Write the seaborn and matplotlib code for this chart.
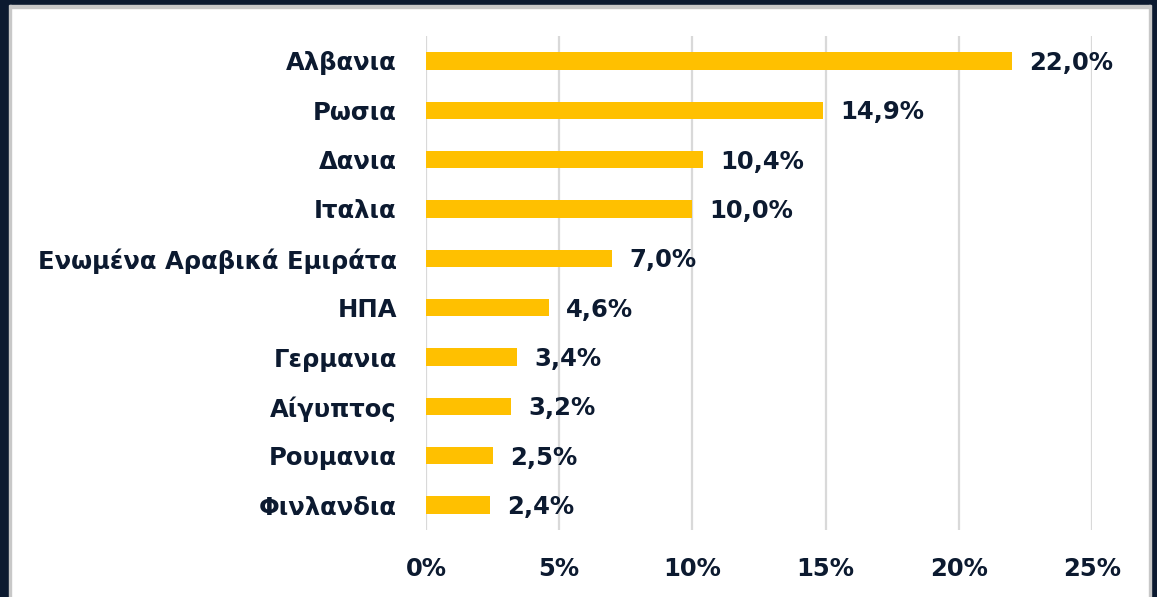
import matplotlib
matplotlib.use("Agg")
import matplotlib.pyplot as plt
import matplotlib.patches as mpatches
import pandas as pd
import seaborn as sns

countries = ['Αλβανια', 'Ρωσια', 'Δανια', 'Ιταλια', 'Ενωμένα Αραβικά Εμιράτα',
             'ΗΠΑ', 'Γερμανια', 'Αίγυπτος', 'Ρουμανια', 'Φινλανδια']
shares = [22.0, 14.9, 10.4, 10.0, 7.0, 4.6, 3.4, 3.2, 2.5, 2.4]
xticks = [0, 5, 10, 15, 20, 25]

NAVY = '#0c1a30'
BAR = '#ffc000'
GRID = '#d9d9d9'

df = pd.DataFrame({'country': countries, 'share': shares})

sns.set_style('white')
plt.rcParams['font.family'] = ['DejaVu Sans']

fig = plt.figure(figsize=(11.57, 5.97), dpi=100)
ax = fig.add_axes([0.3682, 0.1127, 0.5756, 0.8265])

sns.barplot(data=df, x='share', y='country', color=BAR, width=0.35,
            saturation=1, linewidth=0, ax=ax, zorder=3)

ax.set_xlim(0, 25)
ax.set_ylim(9.5, -0.5)
ax.set_xticks(xticks)
ax.set_xticklabels([f'{t}%' for t in xticks])
for t in xticks:
    ax.axvline(t, color=GRID, lw=1.6, zorder=1)
ax.grid(False)
for s in ax.spines.values():
    s.set_visible(False)
ax.set_xlabel('')
ax.set_ylabel('')
ax.tick_params(axis='both', length=0, colors=NAVY, labelsize=17.5)
ax.tick_params(axis='y', pad=21)
ax.tick_params(axis='x', pad=20)
for lab in ax.get_xticklabels() + ax.get_yticklabels():
    lab.set_fontweight('bold')
    lab.set_color(NAVY)

for i, v in enumerate(shares):
    ax.text(v + 0.65, i + 0.04, f'{v:.1f}%'.replace('.', ','), va='center', ha='left',
            fontsize=17.5, fontweight='bold', color=NAVY)

# frame around the slide
fig.patches.append(mpatches.Rectangle((0, 1 - 5 / 597), 1, 5 / 597,
                                      transform=fig.transFigure, color=NAVY, zorder=0))
fig.patches.append(mpatches.Rectangle((0, 1 - 8 / 597), 1, 3 / 597,
                                      transform=fig.transFigure, color='#c8c8c8', zorder=0))
fig.patches.append(mpatches.Rectangle((0, 0), 9 / 1157, 1,
                                      transform=fig.transFigure, color=NAVY, zorder=0))
fig.patches.append(mpatches.Rectangle((9 / 1157, 0), 2 / 1157, 1 - 5 / 597,
                                      transform=fig.transFigure, color='#c8c8c8', zorder=0))
fig.patches.append(mpatches.Rectangle((1 - 6 / 1157, 0), 6 / 1157, 1,
                                      transform=fig.transFigure, color=NAVY, zorder=0))
fig.patches.append(mpatches.Rectangle((1 - 8 / 1157, 0), 2 / 1157, 1 - 5 / 597,
                                      transform=fig.transFigure, color='#c8c8c8', zorder=0))

fig.savefig('out.png', dpi=100)
